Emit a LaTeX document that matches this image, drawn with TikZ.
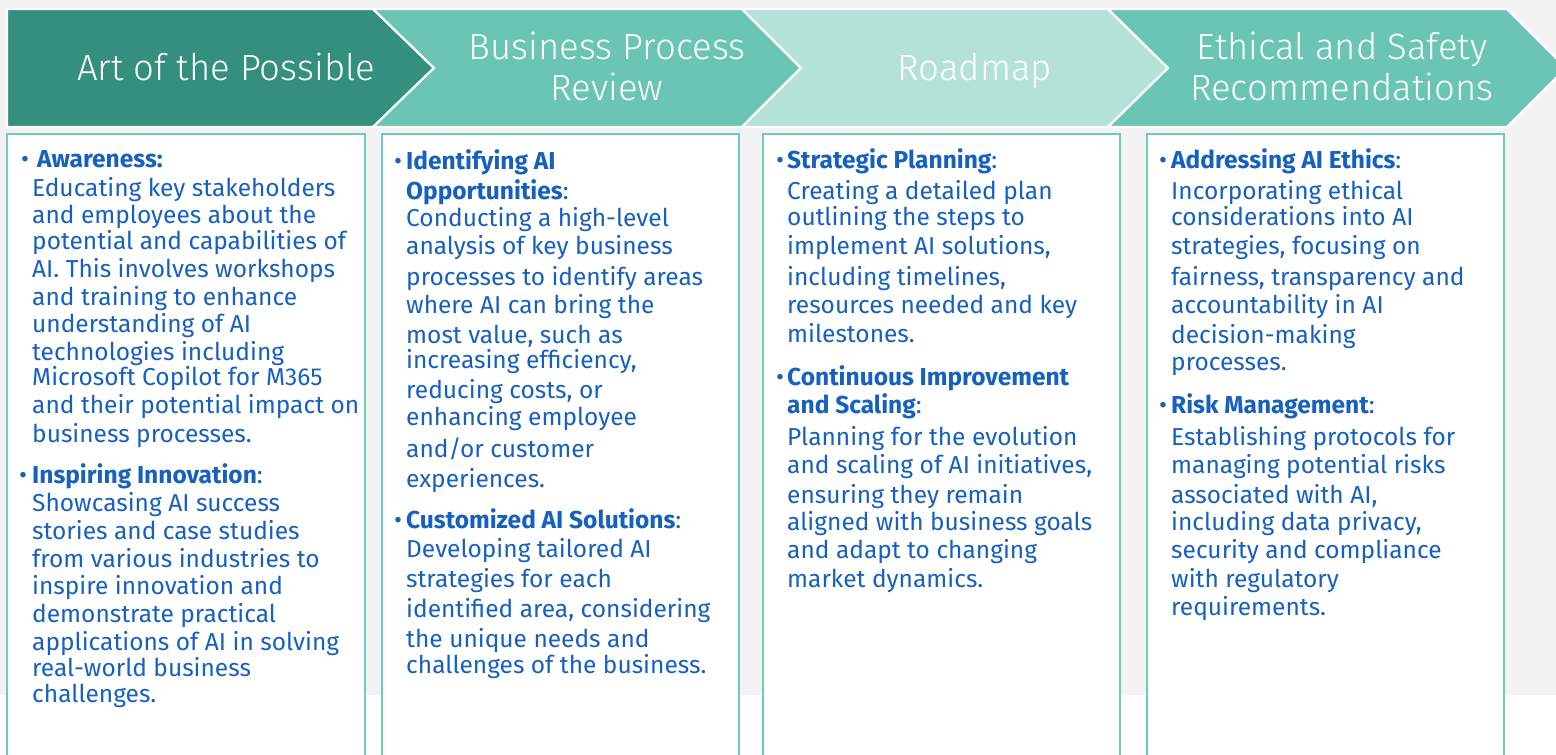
\documentclass[tikz,border=0pt]{standalone}
\usepackage{fontspec}
\setmainfont{Fira Sans}
\newfontfamily\hdfont{Fira Sans Light}
\definecolor{bggray}{HTML}{F2F2F2}
\definecolor{tealdark}{HTML}{358F7F}
\definecolor{tealmid}{HTML}{6BC5B5}
\definecolor{teallight}{HTML}{B5E2D8}
\definecolor{boxline}{HTML}{6CCBBA}
\definecolor{txtblue}{HTML}{1660BF}
\newcommand\bline[4]{\node[bodytxt] (#1) at (#2,#3) {#4};}
\newcommand\bdot[3]{\node[bodytxt] (#1) at (#2,#3) {\textbullet};}
\begin{document}
\begin{tikzpicture}[x=1pt,y=-1pt,
  chev/.style={draw=white,line width=2.2pt,line join=miter},
  colbox/.style={draw=boxline,fill=white,line width=2.5pt},
  hdtxt/.style={text=white,anchor=base,inner sep=0pt,font=\hdfont\fontsize{36.5}{42}\selectfont},
  bodytxt/.style={text=txtblue,anchor=base west,inner sep=0pt,font=\fontsize{24.5}{28}\selectfont}]
\useasboundingbox (0,0) rectangle (1556,755);
\clip (0,0) rectangle (1556,755);
\fill[white] (0,0) rectangle (1556,755);
\fill[bggray] (0,0) rectangle (1556,695);
% chevrons
\draw[chev,fill=tealdark] (7,9) -- (373,9) -- (434,68) -- (373,127) -- (7,127) -- cycle;
\draw[chev,fill=tealmid] (373,9) -- (742,9) -- (801,68) -- (742,127) -- (373,127) -- (434,68) -- cycle;
\draw[chev,fill=teallight] (742,9) -- (1108,9) -- (1168,68) -- (1108,127) -- (742,127) -- (801,68) -- cycle;
\draw[chev,fill=tealmid] (1108,9) -- (1507,9) -- (1566,68) -- (1507,127) -- (1108,127) -- (1168,68) -- cycle;
% header texts
\node[hdtxt] (h1) at (226,80) {Art of the Possible};
\node[hdtxt] (h2a) at (607,59) {Business Process};
\node[hdtxt] (h2b) at (607,100) {Review};
\node[hdtxt] (h3) at (975,80) {Roadmap};
\node[hdtxt] (h4a) at (1342,59) {Ethical and Safety};
\node[hdtxt] (h4b) at (1342,100) {Recommendations};
% boxes
\draw[colbox] (7,134) rectangle (365,770);
\draw[colbox] (382,134) rectangle (739,770);
\draw[colbox] (763,134) rectangle (1120,770);
\draw[colbox] (1147,134) rectangle (1504,770);
% box 1
\bdot{a0}{21}{167}
\bline{a1}{37}{167}{\textbf{Awareness:}}
\bline{a2}{32}{196}{Educating key stakeholders}
\bline{a3}{32}{223}{and employees about the}
\bline{a4}{32}{249}{potential and capabilities of}
\bline{a5}{32}{277}{AI. This involves workshops}
\bline{a6}{32}{305}{and training to enhance}
\bline{a7}{32}{332}{understanding of AI}
\bline{a8}{32}{360}{technologies including}
\bline{a9}{32}{385}{Microsoft Copilot for M365}
\bline{a10}{32}{413}{and their potential impact on}
\bline{a11}{32}{442}{business processes.}
\bdot{b0}{19}{483}
\bline{b1}{32}{483}{\textbf{Inspiring Innovation}:}
\bline{b2}{32}{511}{Showcasing AI success}
\bline{b3}{32}{539}{stories and case studies}
\bline{b4}{32}{567}{from various industries to}
\bline{b5}{32}{594}{inspire innovation and}
\bline{b6}{32}{622}{demonstrate practical}
\bline{b7}{32}{650}{applications of AI in solving}
\bline{b8}{32}{676}{real-world business}
\bline{b9}{32}{702}{challenges.}
% box 2
\bdot{c0}{394}{169}
\bline{c1}{406}{169}{\textbf{Identifying AI}}
\bline{c2}{406}{199}{\textbf{Opportunities}:}
\bline{c3}{406}{226}{Conducting a high-level}
\bline{c4}{406}{254}{analysis of key business}
\bline{c5}{406}{285}{processes to identify areas}
\bline{c6}{406}{313}{where AI can bring the}
\bline{c7}{406}{343}{most value, such as}
\bline{c8}{406}{368}{increasing efficiency,}
\bline{c9}{406}{398}{reducing costs, or}
\bline{c10}{406}{425}{enhancing employee}
\bline{c11}{406}{457}{and/or customer}
\bline{c12}{406}{487}{experiences.}
\bdot{d0}{394}{528}
\bline{d1}{406}{528}{\textbf{Customized AI Solutions}:}
\bline{d2}{406}{557}{Developing tailored AI}
\bline{d3}{406}{587}{strategies for each}
\bline{d4}{406}{617}{identified area, considering}
\bline{d5}{406}{647}{the unique needs and}
\bline{d6}{406}{673}{challenges of the business.}
% box 3
\bdot{e0}{776}{168}
\bline{e1}{787}{168}{\textbf{Strategic Planning}:}
\bline{e2}{787}{199}{Creating a detailed plan}
\bline{e3}{787}{225}{outlining the steps to}
\bline{e4}{787}{254}{implement AI solutions,}
\bline{e5}{787}{285}{including timelines,}
\bline{e6}{787}{313}{resources needed and key}
\bline{e7}{787}{342}{milestones.}
\bdot{f0}{776}{385}
\bline{f1}{787}{385}{\textbf{Continuous Improvement}}
\bline{f2}{787}{413}{\textbf{and Scaling}:}
\bline{f3}{787}{445}{Planning for the evolution}
\bline{f4}{787}{473}{and scaling of AI initiatives,}
\bline{f5}{787}{503}{ensuring they remain}
\bline{f6}{787}{530}{aligned with business goals}
\bline{f7}{787}{558}{and adapt to changing}
\bline{f8}{787}{587}{market dynamics.}
% box 4
\bdot{g0}{1159}{168}
\bline{g1}{1171}{168}{\textbf{Addressing AI Ethics}:}
\bline{g2}{1171}{199}{Incorporating ethical}
\bline{g3}{1171}{225}{considerations into AI}
\bline{g4}{1171}{254}{strategies, focusing on}
\bline{g5}{1171}{285}{fairness, transparency and}
\bline{g6}{1171}{313}{accountability in AI}
\bline{g7}{1171}{343}{decision-making}
\bline{g8}{1171}{370}{processes.}
\bdot{k0}{1159}{413}
\bline{k1}{1171}{413}{\textbf{Risk Management}:}
\bline{k2}{1171}{445}{Establishing protocols for}
\bline{k3}{1171}{473}{managing potential risks}
\bline{k4}{1171}{503}{associated with AI,}
\bline{k5}{1171}{530}{including data privacy,}
\bline{k6}{1171}{558}{security and compliance}
\bline{k7}{1171}{587}{with regulatory}
\bline{k8}{1171}{615}{requirements.}
\end{tikzpicture}
\end{document}
